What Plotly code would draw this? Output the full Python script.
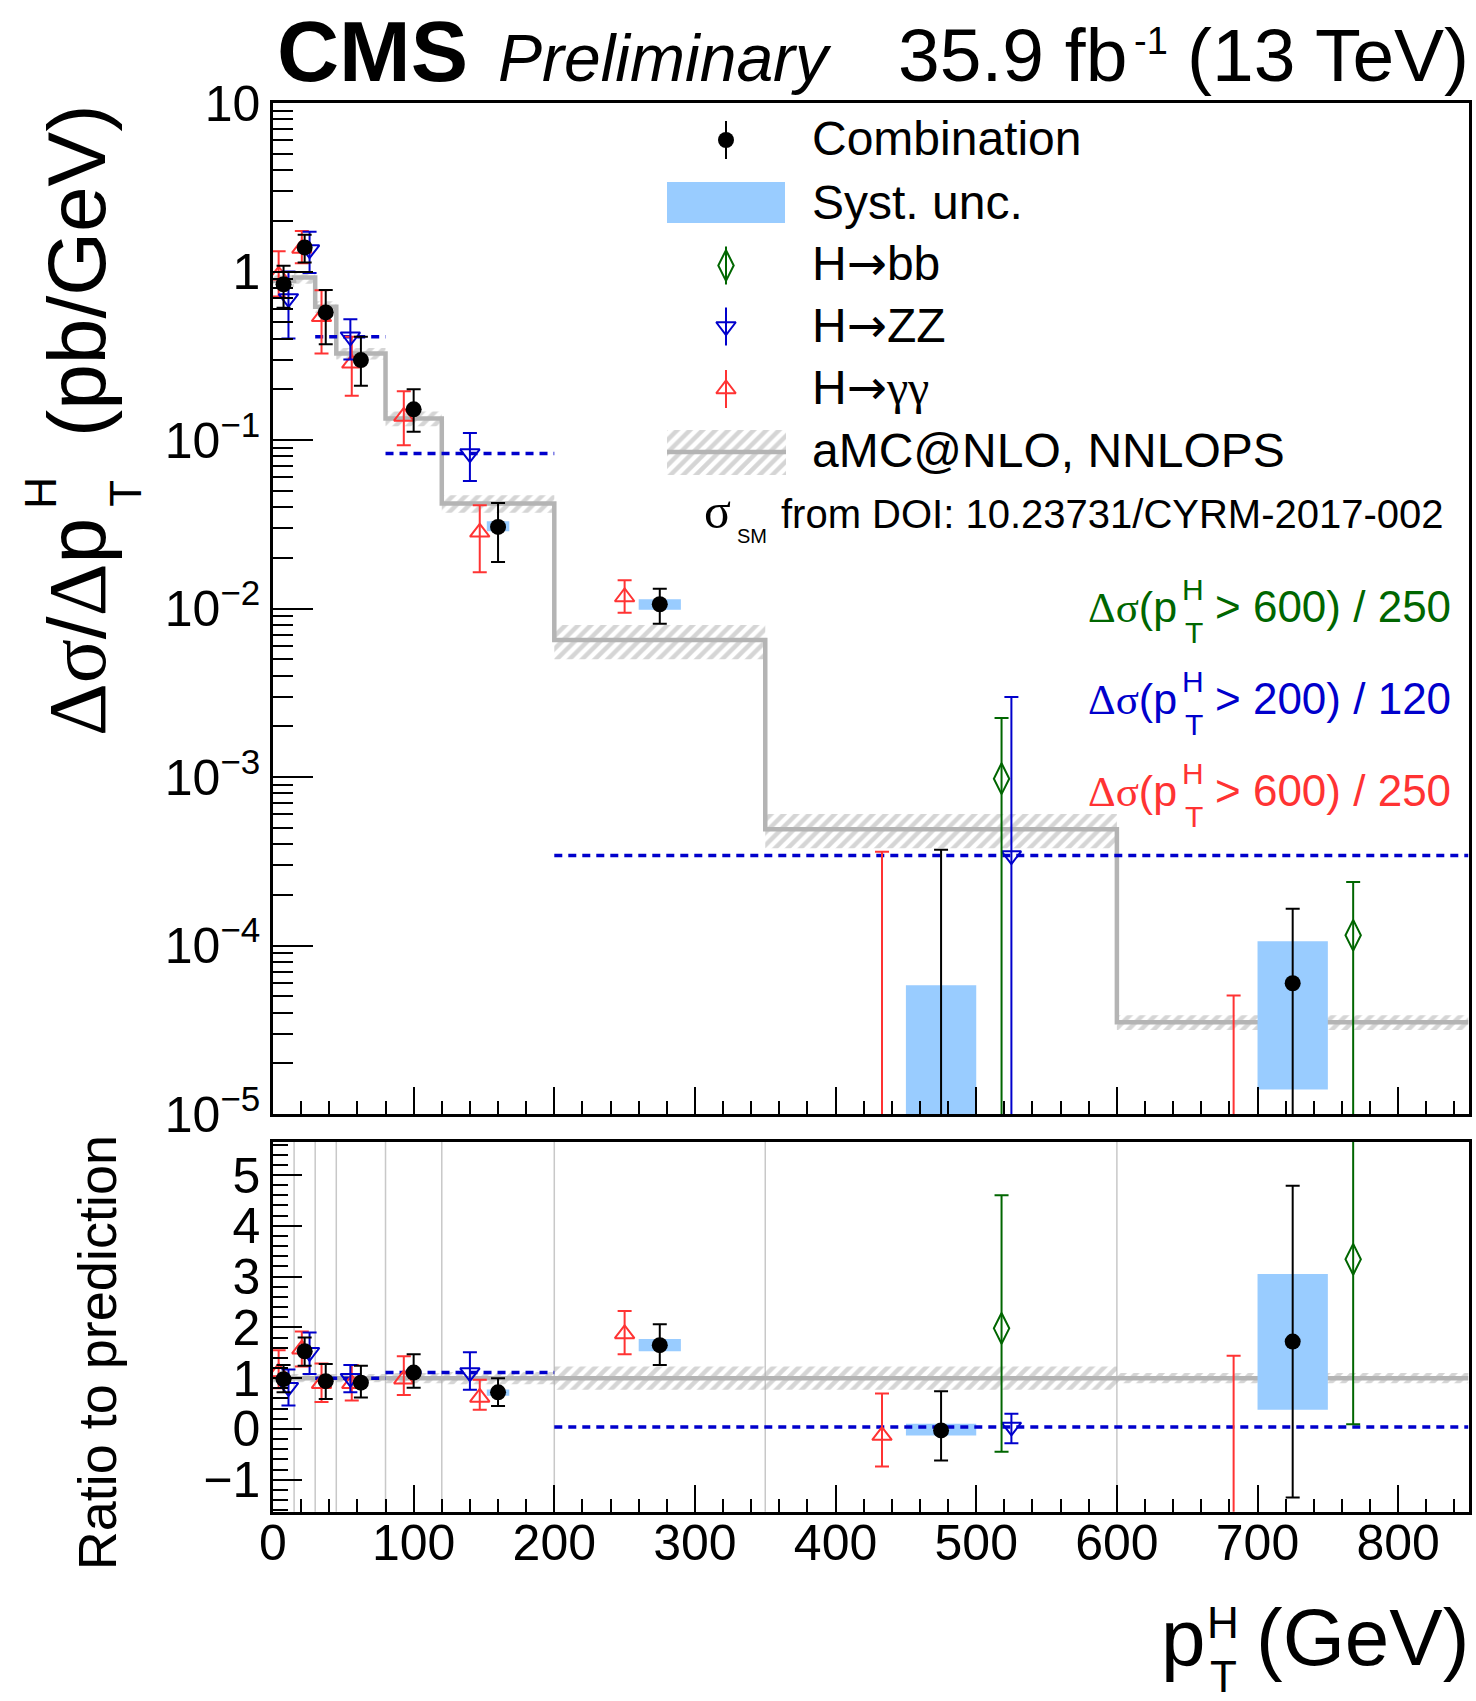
import plotly.graph_objects as go

W, H = 1476, 1701
SANS = "Liberation Sans"
SERIF = "Liberation Serif"

# ---------------- data ----------------
bin_edges = [0, 15, 30, 45, 80, 120, 200, 350, 600, 850]
theory_xsec = [0.88, 0.92, 0.617, 0.326, 0.134, 0.042, 0.0065, 4.9e-4, 3.5e-5]
theory_unc = [0.08, 0.08, 0.08, 0.08, 0.10, 0.12, 0.23, 0.23, 0.10]

comb_pt = [7.5, 22.5, 37.5, 62.5, 100, 160, 275, 475, 725]
comb_xsec = [0.84, 1.39, 0.572, 0.298, 0.152, 0.0305, 0.0106, -1.5e-5, 5.97e-5]
comb_xsec_hi = [1.08, 1.65, 0.776, 0.41, 0.20, 0.0423, 0.0131, 3.7e-4, 1.65e-4]
comb_xsec_lo = [0.61, 1.13, 0.37, 0.21, 0.112, 0.0189, 0.00813, -3.0e-4, -4.7e-5]
comb_syst_hi = [0.88, 1.45, 0.60, 0.312, 0.159, 0.0329, 0.01135, 5.8e-5, 1.06e-4]
comb_syst_lo = [0.80, 1.33, 0.545, 0.285, 0.145, 0.0287, 0.00984, -5.8e-5, 1.4e-5]
comb_ratio = [0.98, 1.53, 0.94, 0.91, 1.11, 0.72, 1.65, -0.03, 1.72]
comb_ratio_hi = [1.26, 1.80, 1.28, 1.245, 1.47, 1.00, 2.06, 0.74, 4.79]
comb_ratio_lo = [0.72, 1.245, 0.59, 0.62, 0.81, 0.45, 1.26, -0.62, -1.35]
comb_ratio_syst_hi = [1.02, 1.60, 0.99, 0.96, 1.17, 0.775, 1.77, 0.10, 3.05]
comb_ratio_syst_lo = [0.94, 1.46, 0.89, 0.86, 1.05, 0.655, 1.53, -0.13, 0.38]

gg_pt = [4, 20.5, 34.5, 56, 93, 147, 250, 433, 683]
gg_xsec = [0.95, 1.37, 0.538, 0.285, 0.138, 0.0283, 0.0117, -6.4e-5, -8.4e-5]
gg_xsec_hi = [1.32, 1.74, 0.775, 0.41, 0.195, 0.041, 0.0147, 3.6e-4, 5.05e-5]
gg_xsec_lo = [0.71, 1.12, 0.326, 0.183, 0.093, 0.0164, 0.00945, -3.6e-4, -2.2e-4]
gg_ratio = [1.12, 1.57, 0.89, 0.89, 0.98, 0.62, 1.87, -0.13, -2.4]
gg_ratio_hi = [1.55, 1.92, 1.29, 1.26, 1.43, 0.97, 2.32, 0.70, 1.44]
gg_ratio_lo = [0.80, 1.23, 0.53, 0.56, 0.67, 0.38, 1.47, -0.74, -6.2]

zz_pt = [11, 26, 55, 140, 525]
zz_bin_lo = [0, 15, 30, 80, 200]
zz_bin_hi = [15, 30, 80, 200, 850]
zz_dashed = [False, False, True, True, True]
zz_xsec = [0.692, 1.35, 0.41, 0.0831, 3.42e-4]
zz_xsec_hi = [1.0, 1.72, 0.52, 0.110, 2.98e-3]
zz_xsec_lo = [0.40, 0.98, 0.30, 0.0572, -2.6e-3]
zz_ratio = [0.82, 1.51, 1.0, 1.11, 0.04]
zz_ratio_hi = [1.17, 1.90, 1.26, 1.51, 0.30]
zz_ratio_lo = [0.46, 1.08, 0.72, 0.77, -0.28]

bb_pt = [518, 768]
bb_xsec = [9.77e-4, 1.15e-4]
bb_xsec_hi = [2.24e-3, 2.38e-4]
bb_xsec_lo = [-2.2e-4, 3.2e-6]
bb_ratio = [1.98, 3.34]
bb_ratio_hi = [4.60, 6.9]
bb_ratio_lo = [-0.45, 0.09]

# ---------------- styles ----------------
C_COMB = "black"
C_GG = "#ff3333"
C_ZZ = "#0000cc"
C_BB = "#006600"
C_SYST = "#99ccff"
C_THEO = "#b4b4b4"
LOG_FLOOR = 1e-9
SYST_HALF_FRAC = 0.1

fig = go.Figure()


def add(tr):
    fig.add_trace(tr)


def hatch_pattern():
    return dict(shape="/", fgcolor="#acacac", bgcolor="rgba(0,0,0,0)", size=9, solidity=0.5)


def band_trace(xa, ya, centers, scale_center):
    xs, ys = [], []
    for i, c in enumerate(centers):
        lo_e, hi_e = bin_edges[i], bin_edges[i + 1]
        u = theory_unc[i]
        base = c if scale_center else 1.0
        ylo, yhi = base * (1 - u), base * (1 + u)
        xs += [lo_e, hi_e, hi_e, lo_e, lo_e, None]
        ys += [ylo, ylo, yhi, yhi, ylo, None]
    return go.Scatter(x=xs, y=ys, mode="lines", fill="toself", fillcolor="rgba(0,0,0,0)",
                      fillpattern=hatch_pattern(), line=dict(width=0), xaxis=xa, yaxis=ya,
                      hoverinfo="skip", showlegend=False)


def syst_trace(xa, ya, lows, highs, logy):
    xs, ys = [], []
    for i, xc in enumerate(comb_pt):
        half = SYST_HALF_FRAC * (bin_edges[i + 1] - bin_edges[i])
        lo, hi = lows[i], highs[i]
        if logy:
            lo = max(lo, LOG_FLOOR)
        xs += [xc - half, xc + half, xc + half, xc - half, xc - half, None]
        ys += [lo, lo, hi, hi, lo, None]
    return go.Scatter(x=xs, y=ys, mode="lines", fill="toself", fillcolor=C_SYST,
                      line=dict(width=0), xaxis=xa, yaxis=ya, hoverinfo="skip", showlegend=False)


def dashed_trace(xa, ya, vals):
    xs, ys = [], []
    for lo, hi, v, d in zip(zz_bin_lo, zz_bin_hi, vals, zz_dashed):
        if d:
            xs += [lo, hi, None]
            ys += [v, v, None]
    return go.Scatter(x=xs, y=ys, mode="lines", line=dict(color=C_ZZ, width=3.5, dash="8px,6px"),
                      xaxis=xa, yaxis=ya, hoverinfo="skip", showlegend=False)


def series_top(x, v, hi, lo, color, symbol, size, lw):
    # error bar drawn from its upper end down to the lower end (runs off-axis when <= 0)
    add(go.Scatter(x=x, y=hi, mode="markers", marker=dict(size=1, color="rgba(0,0,0,0)"),
                   error_y=dict(type="data", symmetric=False, array=[0] * len(x),
                                arrayminus=[h - l for h, l in zip(hi, lo)],
                                color=color, thickness=2, width=7),
                   xaxis="x2", yaxis="y2", hoverinfo="skip", showlegend=False))
    px = [a for a, b in zip(x, v) if b > 0]
    pv = [b for b in v if b > 0]
    add(go.Scatter(x=px, y=pv, mode="markers",
                   marker=dict(symbol=symbol, size=size, color=color, line=dict(width=lw, color=color)),
                   xaxis="x2", yaxis="y2", hoverinfo="skip", showlegend=False))


def series_ratio(x, v, hi, lo, color, symbol, size, lw):
    add(go.Scatter(x=x, y=v, mode="markers",
                   marker=dict(symbol=symbol, size=size, color=color, line=dict(width=lw, color=color)),
                   error_y=dict(type="data", symmetric=False,
                                array=[h - a for h, a in zip(hi, v)],
                                arrayminus=[a - l for a, l in zip(v, lo)],
                                color=color, thickness=2, width=7),
                   xaxis="x", yaxis="y", hoverinfo="skip", showlegend=False))


# ---------- top panel ----------
add(band_trace("x2", "y2", theory_xsec, True))
add(go.Scatter(x=bin_edges, y=theory_xsec + [theory_xsec[-1]], mode="lines", line_shape="hv",
               line=dict(color=C_THEO, width=4.5), xaxis="x2", yaxis="y2", hoverinfo="skip",
               showlegend=False))
add(syst_trace("x2", "y2", comb_syst_lo, comb_syst_hi, True))
add(dashed_trace("x2", "y2", zz_xsec))
series_top(gg_pt, gg_xsec, gg_xsec_hi, gg_xsec_lo, C_GG, "triangle-up-open", 17, 2)
series_top(zz_pt, zz_xsec, zz_xsec_hi, zz_xsec_lo, C_ZZ, "triangle-down-open", 17, 2)
series_top(bb_pt, bb_xsec, bb_xsec_hi, bb_xsec_lo, C_BB, "diamond-tall-open", 22, 2)
series_top(comb_pt, comb_xsec, comb_xsec_hi, comb_xsec_lo, C_COMB, "circle", 16, 0)

# ---------- ratio panel ----------
add(band_trace("x", "y", theory_xsec, False))
add(go.Scatter(x=[bin_edges[0], bin_edges[-1]], y=[1, 1], mode="lines",
               line=dict(color=C_THEO, width=4.5), xaxis="x", yaxis="y", hoverinfo="skip",
               showlegend=False))
add(syst_trace("x", "y", comb_ratio_syst_lo, comb_ratio_syst_hi, False))
add(dashed_trace("x", "y", zz_ratio))
series_ratio(gg_pt, gg_ratio, gg_ratio_hi, gg_ratio_lo, C_GG, "triangle-up-open", 17, 2)
series_ratio(zz_pt, zz_ratio, zz_ratio_hi, zz_ratio_lo, C_ZZ, "triangle-down-open", 17, 2)
series_ratio(bb_pt, bb_ratio, bb_ratio_hi, bb_ratio_lo, C_BB, "diamond-tall-open", 22, 2)
series_ratio(comb_pt, comb_ratio, comb_ratio_hi, comb_ratio_lo, C_COMB, "circle", 16, 0)

# ---------- legend (drawn on a pixel-space overlay) ----------
LEG_X = 726
for yy, col, sym, sz, lw in [(140, C_COMB, "circle", 16, 0), (265.5, C_BB, "diamond-tall-open", 22, 2),
                             (326.5, C_ZZ, "triangle-down-open", 17, 2), (389, C_GG, "triangle-up-open", 17, 2)]:
    add(go.Scatter(x=[LEG_X], y=[yy], mode="markers",
                   marker=dict(symbol=sym, size=sz, color=col, line=dict(width=lw, color=col)),
                   error_y=dict(type="constant", value=19, color=col, thickness=2, width=0),
                   xaxis="x3", yaxis="y3", hoverinfo="skip", showlegend=False))
add(go.Scatter(x=[667, 786, 786, 667, 667], y=[430, 430, 475, 475, 430], mode="lines", fill="toself",
               fillcolor="rgba(0,0,0,0)", fillpattern=hatch_pattern(), line=dict(width=0),
               xaxis="x3", yaxis="y3", hoverinfo="skip", showlegend=False))
add(go.Scatter(x=[667, 786], y=[452, 452], mode="lines", line=dict(color=C_THEO, width=4.5),
               xaxis="x3", yaxis="y3", hoverinfo="skip", showlegend=False))

shapes = [dict(type="rect", xref="paper", yref="paper", x0=667 / W, x1=785 / W,
               y0=1 - 223 / H, y1=1 - 182 / H, fillcolor=C_SYST, line=dict(width=0))]
for e in bin_edges[1:-1]:
    shapes.append(dict(type="line", xref="x", yref="y domain", x0=e, x1=e, y0=0, y1=1,
                       line=dict(color="#c8c8c8", width=1.5), layer="below"))

# ---------- text ----------
ann = []


def txt(s, x, base, size, xanchor="left", color="black", family=SANS, angle=0, yanchor=None, yc=None):
    if angle == 0:
        y = base - 0.3465 * size if yc is None else yc
        ann.append(dict(text=s, x=x / W, y=1 - y / H, xref="paper", yref="paper", xanchor=xanchor,
                        yanchor="middle", showarrow=False, font=dict(family=family, size=size, color=color),
                        borderpad=0))
    else:
        xx = base - 0.3465 * size
        ann.append(dict(text=s, x=xx / W, y=1 - x / H, xref="paper", yref="paper", xanchor="center",
                        yanchor=yanchor, showarrow=False, textangle=angle,
                        font=dict(family=family, size=size, color=color), borderpad=0))


def greek(s):
    return '<span style="font-family:Liberation Serif">' + s + '</span>'


ARROW = '<span style="font-family:DejaVu Sans">→</span>'

# header
txt("<b>CMS</b>", 276, 81, 86)
txt("<i>Preliminary</i>", 497, 81, 66)
txt("35.9 fb", 1128, 81, 75, xanchor="right")
txt("-1", 1133, 54, 38)
txt("(13 TeV)", 1470, 81, 75, xanchor="right")

# legend texts
for s, yc in [("Combination", 138.5), ("Syst. unc.", 202), ("H" + ARROW + "bb", 263), ("H" + ARROW + "ZZ", 325),
              ("H" + ARROW + greek("γγ"), 387), ("aMC@NLO, NNLOPS", 450)]:
    txt(s, 811, 0, 48, yc=yc)
txt(greek("σ"), 703, 528, 50)
txt("SM", 736, 543, 20)
txt("from DOI: 10.23731/CYRM-2017-002", 1445, 528, 40, xanchor="right")

# coloured notes
for col, thr, div, base in [(C_BB, "600", "250", 622), (C_ZZ, "200", "120", 714), (C_GG, "600", "250", 806)]:
    txt(greek("Δσ") + "(p", 1178, base, 43, xanchor="right", color=col)
    txt("H", 1181, base - 22, 30, color=col)
    txt("T", 1184, base + 21, 30, color=col)
    txt("&gt; " + thr + ") / " + div, 1452, base, 44, xanchor="right", color=col)

# x title
txt("p", 1160, 1665, 80)
txt("H", 1206, 1638, 44)
txt("T", 1209, 1692, 44)
txt("(GeV)", 1470, 1665, 80, xanchor="right")

# y title (rotated)
txt(greek("Δσ") + "/" + greek("Δ") + "p", 737.5, 105, 82, angle=-90, yanchor="bottom")
txt("H", 493, 56, 44, angle=-90, yanchor="middle")
txt("T", 493, 141, 44, angle=-90, yanchor="middle")
txt("(pb/GeV)", 103, 105, 82, angle=-90, yanchor="top")
txt("Ratio to prediction", 1353, 116, 54, angle=-90, yanchor="middle")

# ---------- axes ----------
XDOM = [273 / W, 1468.5 / W]
tickfont = dict(family=SANS, size=50, color="black")
xcommon = dict(range=[0, 850], domain=XDOM, showline=True, mirror=True, linecolor="black", linewidth=2.5,
               ticks="inside", tickcolor="black", tickwidth=2, ticklen=27, showgrid=False, zeroline=False,
               fixedrange=True, automargin=False, tickmode="array", tickvals=list(range(0, 801, 100)),
               minor=dict(tickmode="array", tickvals=[v for v in range(0, 851, 20) if v % 100],
                          ticks="inside", ticklen=13, tickwidth=2, tickcolor="black"),
               tickfont=tickfont)

log_major = [1e-5, 1e-4, 1e-3, 1e-2, 1e-1, 1, 10]
log_text = ["10<sup>−5</sup>", "10<sup>−4</sup>", "10<sup>−3</sup>", "10<sup>−2</sup>", "10<sup>−1</sup>", "1", "10"]
log_minor = [m * 10.0 ** e for e in range(-5, 1) for m in range(2, 10)]
ratio_minor = [round(-1.6 + 0.2 * k, 2) for k in range(37)]
ratio_minor = [v for v in ratio_minor if abs(v - round(v)) > 1e-6]

fig.update_layout(
    width=W, height=H, margin=dict(l=0, r=0, t=0, b=0, autoexpand=False),
    paper_bgcolor="white", plot_bgcolor="rgba(0,0,0,0)", showlegend=False,
    xaxis=dict(anchor="y", ticklabelstandoff=-14, **xcommon),
    xaxis2=dict(anchor="y2", matches="x", showticklabels=False, **xcommon),
    yaxis=dict(anchor="x", domain=[1 - 1511.7 / H, 1 - 1142 / H], range=[-1.63, 5.65],
               showline=True, mirror=True, linecolor="black", linewidth=2.5, ticks="inside",
               tickcolor="black", tickwidth=2, ticklen=29, showgrid=False, zeroline=False, fixedrange=True,
               automargin=False, tickmode="array", tickvals=[-1, 0, 1, 2, 3, 4, 5],
               minor=dict(tickmode="array", tickvals=ratio_minor,
                          ticks="inside", ticklen=15, tickwidth=2, tickcolor="black"),
               tickfont=tickfont),
    yaxis2=dict(anchor="x2", domain=[1 - 1114 / H, 1 - 103 / H], type="log", range=[-5, 1],
                showline=True, mirror=True, linecolor="black", linewidth=2.5, ticks="inside",
                tickcolor="black", tickwidth=2, ticklen=40, showgrid=False, zeroline=False, fixedrange=True,
                automargin=False, tickmode="array", tickvals=log_major, ticktext=log_text,
                minor=dict(tickmode="array", tickvals=log_minor, ticks="inside", ticklen=20,
                           tickwidth=2, tickcolor="black"),
                tickfont=tickfont),
    xaxis3=dict(anchor="y3", domain=[0, 1], range=[0, W], visible=False, fixedrange=True, automargin=False),
    yaxis3=dict(anchor="x3", domain=[0, 1], range=[H, 0], visible=False, fixedrange=True, automargin=False),
    shapes=shapes, annotations=ann,
)

fig.write_html("out.html")
